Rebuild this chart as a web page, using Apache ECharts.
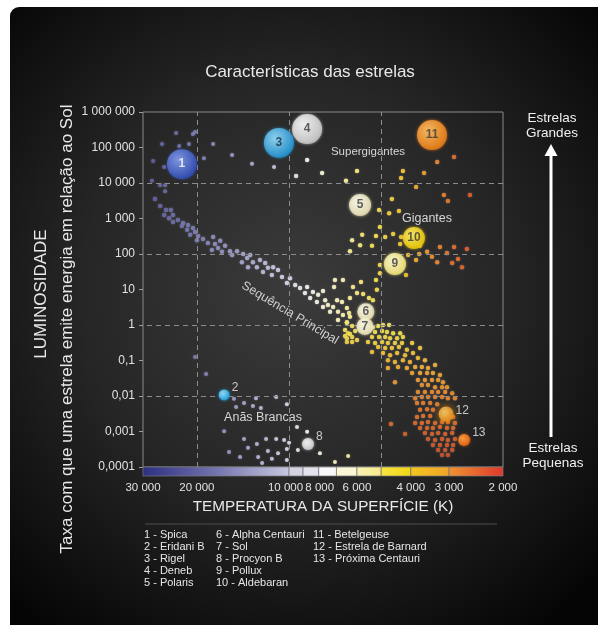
<!DOCTYPE html>
<html><head><meta charset="utf-8">
<script src="https://cdn.jsdelivr.net/npm/echarts@6.0.0/dist/echarts.min.js"></script>
<style>html,body{margin:0;padding:0;background:#fff;}#c{width:598px;height:625px;}</style>
</head><body><div id="c"></div>
<script>
// Every point: [log10(temperature in K), log10(luminosity in L☉)]
const blueSupergiants = [[4.369,5.41],[4.314,5.38],[4.307,5.44],[4.415,5.10],[4.359,5.04],[4.327,5.10],[4.248,5.10],[4.444,4.62],[4.408,4.45],[4.278,4.70],[4.186,4.79],[4.121,4.54],[4.049,4.45],[4.448,4.06],[4.421,3.94],[4.405,3.94],[4.405,3.77]];
const supergiants = [[3.941,4.65],[3.977,4.20],[3.892,4.28],[3.814,4.06],[3.778,4.34],[3.628,4.34],[3.634,4.14],[3.559,4.28],[3.516,4.59],[3.461,4.73]];
const giants = [[3.585,3.89],[3.664,3.55],[3.494,3.66],[3.481,3.49],[3.409,3.66],[3.706,3.24],[3.673,3.15],[3.641,3.21],[3.703,2.76],[3.761,2.54],[3.716,2.51],[3.686,2.48],[3.660,2.56],[3.794,2.39],[3.768,2.25],[3.729,2.23],[3.634,2.48],[3.637,2.28],[3.801,2.08],[3.572,2.23],[3.549,2.06],[3.507,2.20],[3.484,2.03],[3.461,2.20],[3.419,2.14],[3.611,1.97],[3.575,2.00],[3.533,1.92],[3.585,1.83],[3.516,1.77],[3.467,1.75],[3.448,1.86],[3.435,1.63],[3.703,1.69],[3.703,1.46],[3.618,1.41],[3.824,1.27],[3.765,1.21],[3.716,1.27],[3.853,1.07],[3.791,1.07],[3.758,0.87],[3.739,0.76],[3.850,1.27],[3.778,0.90],[3.726,0.70],[3.713,0.99],[3.801,0.76]];
const mainSequenceUpper = [[4.438,3.55],[4.421,3.35],[4.402,3.24],[4.386,3.24],[4.408,3.10],[4.379,3.10],[4.392,3.01],[4.363,2.96],[4.379,2.90],[4.346,2.87],[4.350,2.79],[4.330,2.82],[4.333,2.68],[4.314,2.73],[4.307,2.62],[4.323,2.54],[4.297,2.51],[4.301,2.39],[4.281,2.42],[4.248,2.48],[4.265,2.31],[4.242,2.28],[4.225,2.37],[4.252,2.11],[4.232,2.17],[4.209,2.23],[4.219,2.06],[4.193,2.08],[4.170,2.08],[4.186,1.97],[4.150,2.00],[4.127,1.97],[4.137,1.89],[4.154,1.77],[4.118,1.77],[4.095,1.83],[4.078,1.75],[4.105,1.63],[4.134,1.63],[4.069,1.61],[4.052,1.63],[4.036,1.55],[4.085,1.49],[4.056,1.41],[4.023,1.35],[3.997,1.32],[4.007,1.18],[3.980,1.13],[3.964,1.04],[3.941,1.07],[3.922,0.93],[3.948,0.90],[3.905,0.85],[3.889,0.96],[3.931,0.76],[3.909,0.65],[3.882,0.70],[3.873,0.56],[3.856,0.51],[3.889,0.51],[3.843,0.70],[3.827,0.65],[3.811,0.48],[3.866,0.37],[3.840,0.37],[3.824,0.28],[3.801,0.23],[3.840,0.14],[3.811,0.08]];
const mainSequenceLower = [[3.804,0.34],[3.811,0.06],[3.794,-0.03],[3.817,-0.14],[3.784,-0.17],[3.801,-0.25],[3.817,-0.31],[3.807,-0.23],[3.811,-0.37],[3.794,-0.34],[3.778,-0.42],[3.794,-0.48],[3.811,-0.48],[3.726,-0.06],[3.709,-0.03],[3.693,0.00],[3.673,0.00],[3.719,-0.20],[3.696,-0.17],[3.680,-0.20],[3.660,-0.23],[3.637,-0.23],[3.729,-0.34],[3.706,-0.34],[3.686,-0.34],[3.670,-0.37],[3.647,-0.37],[3.628,-0.34],[3.742,-0.48],[3.719,-0.51],[3.696,-0.48],[3.677,-0.51],[3.654,-0.51],[3.631,-0.51],[3.709,-0.62],[3.686,-0.65],[3.664,-0.65],[3.641,-0.62],[3.615,-0.70],[3.598,-0.51],[3.572,-0.65],[3.729,-0.76],[3.693,-0.79],[3.670,-0.85],[3.647,-0.79],[3.621,-0.85],[3.595,-0.79],[3.677,-0.99],[3.654,-1.04],[3.628,-0.99],[3.605,-1.04],[3.579,-0.93],[3.556,-0.99],[3.644,-1.18],[3.615,-1.21],[3.588,-1.18],[3.566,-1.18],[3.546,-1.21],[3.523,-1.13],[3.598,-1.35],[3.572,-1.35],[3.549,-1.35],[3.530,-1.35],[3.507,-1.41],[3.579,-1.55],[3.556,-1.55],[3.533,-1.55],[3.513,-1.55],[3.497,-1.61],[3.566,-1.69],[3.546,-1.69],[3.523,-1.75],[3.500,-1.75],[3.484,-1.75],[3.579,-1.89],[3.556,-1.89],[3.533,-1.89],[3.513,-1.89],[3.490,-1.89],[3.467,-1.92],[3.588,-2.06],[3.566,-2.03],[3.546,-2.03],[3.523,-2.03],[3.500,-2.03],[3.481,-2.06],[3.458,-2.06],[3.582,-2.20],[3.562,-2.20],[3.539,-2.20],[3.516,-2.23],[3.572,-2.39],[3.549,-2.37],[3.530,-2.39],[3.582,-2.59],[3.562,-2.56],[3.539,-2.56],[3.464,-2.59],[3.588,-2.76],[3.566,-2.76],[3.546,-2.73],[3.523,-2.76],[3.500,-2.73],[3.481,-2.73],[3.458,-2.76],[3.572,-2.90],[3.549,-2.90],[3.530,-2.90],[3.507,-2.87],[3.484,-2.90],[3.464,-2.90],[3.556,-3.04],[3.533,-3.07],[3.513,-3.04],[3.490,-3.07],[3.467,-3.04],[3.546,-3.21],[3.523,-3.24],[3.500,-3.21],[3.481,-3.24],[3.458,-3.21],[3.530,-3.38],[3.507,-3.38],[3.484,-3.38],[3.464,-3.38],[3.513,-3.52],[3.490,-3.52],[3.467,-3.52],[3.500,-3.66],[3.481,-3.66],[3.677,-1.21],[3.654,-1.61],[3.667,-2.79],[3.621,-3.07]];
const whiteDwarfs = [[4.307,-0.90],[4.271,-1.38],[4.180,-2.08],[4.173,-2.31],[4.147,-2.20],[4.118,-2.28],[4.108,-2.06],[4.092,-2.34],[4.042,-2.03],[4.007,-2.23],[4.212,-2.99],[4.147,-3.21],[4.105,-3.35],[4.075,-3.21],[4.042,-3.21],[4.016,-3.24],[4.000,-3.32],[4.196,-3.58],[4.160,-3.72],[4.134,-3.46],[4.101,-3.72],[4.069,-3.55],[4.036,-3.61],[4.007,-3.49],[4.088,-3.89],[4.007,-3.80],[3.974,-2.87],[3.941,-3.01],[3.971,-3.52],[3.899,-3.61],[3.850,-3.86],[3.807,-3.69],[4.056,-3.77]];
const starNames = ['Spica','Eridani B','Rigel','Deneb','Polaris','Alpha Centauri','Sol','Procyon B','Pollux','Aldebaran','Betelgeuse','Estrela de Barnard','Próxima Centauri'];
const namedStars = [[4.350,4.53],[4.212,-1.97],[4.033,5.13],[3.941,5.52],[3.768,3.38],[3.749,0.37],[3.752,-0.04],[3.938,-3.35],[3.654,1.72],[3.592,2.45],[3.533,5.35],[3.487,-2.51],[3.428,-3.24]];
// axes (K and L☉)
const tempTicks = [30000, 20000, 10000, 8000, 6000, 4000, 3000, 2000];
const gridTemps = [20000, 10000, 5000];
const gridLums = [10000, 100, 1, 0.01];
const colorbarTemps = [30000, 10000, 9000, 8000, 7000, 6000, 5000, 4000, 3000, 2000];

const FONT = "'Liberation Sans', Arial, sans-serif";
const L10 = Math.log10;
const G = echarts.graphic;
const tMin = L10(2000), tMax = L10(30000);
const fmtThousands = n => String(n).replace(/\B(?=(\d{3})+(?!\d))/g, ' ');
const fmtLum = v => v >= 0 ? fmtThousands(Math.round(Math.pow(10, v))) : '0,' + '0'.repeat(Math.round(-v) - 1) + '1';
const fmtTemp = v => {
  const t = Math.round(Math.pow(10, v) / 100) * 100;
  const s = fmtThousands(t);
  return t === 10000 ? `{l|${s}}` : t === 8000 ? `{r|${s}}` : s;
};

// styles (not data)
const starStyles = [
  {size:30, c0:'#93aaf0', c1:'#2c48b0', text:'#ffffff'},
  {size:11, c0:'#a8ecff', c1:'#1c9fe2', text:'#eeeeee', out:[0,-7]},
  {size:30, c0:'#a8e6fc', c1:'#1c8ccc', text:'#1e2a44'},
  {size:30, c0:'#ffffff', c1:'#c4c4c4', text:'#3a3a3a'},
  {size:22, c0:'#fffff6', c1:'#e6deb0', text:'#3a3a3a'},
  {size:17, c0:'#fffff4', c1:'#e8e0b0', text:'#3a3a3a'},
  {size:17, c0:'#fffff4', c1:'#e8e0b0', text:'#3a3a3a'},
  {size:12, c0:'#ffffff', c1:'#cfcfcf', text:'#eeeeee', out:[0,-7]},
  {size:22, c0:'#fffde0', c1:'#efe070', text:'#3a3a3a'},
  {size:22, c0:'#fff27a', c1:'#e8c400', text:'#3a3a3a'},
  {size:30, c0:'#ffc870', c1:'#e67812', text:'#3a3a3a'},
  {size:15, c0:'#ffd878', c1:'#f29010', text:'#eeeeee', out:[0,-3]},
  {size:12, c0:'#ffae50', c1:'#e8620e', text:'#eeeeee', out:[0,-7]}
];
const colorbarFills = [
  new G.LinearGradient(0,0,1,0,[{offset:0,color:'#2c2e82'},{offset:0.5,color:'#7474ae'},{offset:1,color:'#c8c8df'}]),
  '#d3d3e3','#e3e3ee','#f7f7fa','#fbf6d6',
  new G.LinearGradient(0,0,1,0,[{offset:0,color:'#f9f3b6'},{offset:1,color:'#f6ea86'}]),
  new G.LinearGradient(0,0,1,0,[{offset:0,color:'#f6e640'},{offset:1,color:'#f2d418'}]),
  new G.LinearGradient(0,0,1,0,[{offset:0,color:'#f3c81c'},{offset:1,color:'#f0a22a'}]),
  new G.LinearGradient(0,0,1,0,[{offset:0,color:'#ee9432'},{offset:1,color:'#e0382c'}])
];

const chart = echarts.init(document.getElementById('c'));
const dot = (name, data, size) => ({type:'scatter', name, data, symbolSize:size, silent:true, z:3,
  itemStyle:{opacity:0.95, shadowBlur:2, shadowColor:'rgba(255,255,255,0.25)'}});

const legendCols = [[0,5],[5,10],[10,13]].map(([a,b]) => starNames.slice(a,b).map((n,i)=>`${a+i+1} - ${n}`).join('\n'));
const legendX = [144, 216, 313];

chart.setOption({
  animation:false,
  backgroundColor:'#ffffff',
  textStyle:{fontFamily:FONT},
  graphic:[
    {type:'rect', z:-100, silent:true, shape:{x:10,y:7,width:600,height:630,r:[9,0,0,0]},
     style:{fill:new G.RadialGradient(0.47,0.45,0.7,[{offset:0,color:'#3b3b3b'},{offset:0.5,color:'#262626'},{offset:1,color:'#050505'}])}},
    {type:'text', x:310, y:72, style:{text:'Características das estrelas', fill:'#e8e8e8', fontSize:17, fontFamily:FONT, align:'center', verticalAlign:'middle'}},
    {type:'text', x:41, y:294, rotation:Math.PI/2, style:{text:'LUMINOSIDADE', fill:'#e8e8e8', fontSize:17, fontFamily:FONT, align:'center', verticalAlign:'middle'}},
    {type:'text', x:67, y:329, rotation:Math.PI/2, style:{text:'Taxa com que uma estrela emite energia em relação ao Sol', fill:'#e8e8e8', fontSize:17, fontFamily:FONT, align:'center', verticalAlign:'middle'}},
    {type:'text', x:323, y:507, style:{text:'TEMPERATURA DA SUPERFÍCIE (K)', fill:'#e8e8e8', fontSize:15.3, fontFamily:FONT, align:'center', verticalAlign:'middle'}},
    {type:'text', x:552, y:126, style:{text:'Estrelas\nGrandes', fill:'#f0f0f0', fontSize:13.5, lineHeight:15, fontFamily:FONT, align:'center', verticalAlign:'middle'}},
    {type:'text', x:553, y:456, style:{text:'Estrelas\nPequenas', fill:'#f0f0f0', fontSize:13.5, lineHeight:15, fontFamily:FONT, align:'center', verticalAlign:'middle'}},
    {type:'line', shape:{x1:551,y1:152,x2:551,y2:437}, style:{stroke:'#ffffff', lineWidth:3}},
    {type:'polygon', shape:{points:[[551,144],[544.5,156],[557.5,156]]}, style:{fill:'#ffffff'}},
    {type:'text', x:368, y:152, style:{text:'Supergigantes', fill:'#d6d6d6', fontSize:11.5, fontFamily:FONT, align:'center', verticalAlign:'middle'}},
    {type:'text', x:427, y:219, style:{text:'Gigantes', fill:'#d6d6d6', fontSize:12.5, fontFamily:FONT, align:'center', verticalAlign:'middle'}},
    {type:'text', x:263, y:418, style:{text:'Anãs Brancas', fill:'#d6d6d6', fontSize:12.5, fontFamily:FONT, align:'center', verticalAlign:'middle'}},
    {type:'text', x:290, y:313, rotation:-0.54, style:{text:'Sequência Principal', fill:'#d0d0d0', fontSize:12.5, fontFamily:FONT, align:'center', verticalAlign:'middle'}},
    {type:'line', shape:{x1:145,y1:524,x2:497,y2:524}, style:{stroke:'#4c4c4c', lineWidth:1}},
    ...legendCols.map((t,i)=>({type:'text', x:legendX[i], y:529, style:{text:t, fill:'#e6e6e6', fontSize:11, lineHeight:12, fontFamily:FONT, align:'left', verticalAlign:'top'}}))
  ],
  grid:[
    {left:143, top:112, width:360, height:355, show:true, borderColor:'#8a8a8a', borderWidth:1, backgroundColor:'transparent'},
    {left:143, top:467, width:360, height:9}
  ],
  xAxis:[
    {type:'value', gridIndex:0, min:tMin, max:tMax, inverse:true, axisLine:{show:false}, axisTick:{show:false}, axisLabel:{show:false}, splitLine:{show:false}},
    {type:'value', gridIndex:1, min:tMin, max:tMax, inverse:true, axisLine:{show:false}, axisTick:{show:false}, splitLine:{show:false},
     axisLabel:{color:'#e2e2e2', fontSize:11.5, margin:6, fontFamily:FONT, customValues:tempTicks.map(L10), formatter:fmtTemp,
       rich:{l:{color:'#e2e2e2', fontSize:11.5, fontFamily:FONT, padding:[0,7,0,0]}, r:{color:'#e2e2e2', fontSize:11.5, fontFamily:FONT, padding:[0,0,0,2]}}}}
  ],
  yAxis:[
    {type:'value', gridIndex:0, min:-4, max:6, interval:1, axisLine:{show:false}, splitLine:{show:false},
     axisTick:{show:true, length:4, lineStyle:{color:'#9a9a9a'}},
     axisLabel:{color:'#e2e2e2', fontSize:12, margin:8, fontFamily:FONT, formatter:fmtLum}},
    {type:'value', gridIndex:1, min:0, max:1, show:false}
  ],
  visualMap:[
    {type:'continuous', show:false, dimension:0, seriesIndex:[1,2,3,4,6], min:3.30, max:4.48,
     inRange:{color:['#d83c2c','#e0582c','#e8842c','#f0c030','#f2e050','#f6f0b8','#ececf2','#c4c4dc','#a0a0cc','#8484bc','#6c6cac','#5a5aa0']}},
    {type:'continuous', show:false, dimension:1, seriesIndex:[5], min:-3.7, max:0.4,
     inRange:{color:['#c8502a','#d45e2a','#de702c','#e6862e','#eba232','#eec038','#eedc4c','#f0ec9a']}}
  ],
  series:[
    {type:'scatter', data:[], z:1, silent:true,
     markLine:{silent:true, symbol:'none', label:{show:false}, lineStyle:{color:'#8c8c8c', type:[5,4], width:1},
       data:[...gridTemps.map(t=>({xAxis:L10(t)})), ...gridLums.map(l=>({yAxis:L10(l)}))]}},
    dot('Supergigantes azuis', blueSupergiants, 4),
    dot('Supergigantes', supergiants, 4.5),
    dot('Gigantes', giants, 4.5),
    dot('Sequência principal (quentes)', mainSequenceUpper, 4.5),
    dot('Sequência principal (frias)', mainSequenceLower, 4.5),
    dot('Anãs brancas', whiteDwarfs, 4),
    {type:'scatter', name:'Estrelas', z:5, silent:true,
     data:namedStars.map((p,i)=>{
       const s = starStyles[i];
       return {value:p, symbolSize:s.size,
         itemStyle:{color:new G.RadialGradient(0.38,0.35,0.7,[{offset:0,color:s.c0},{offset:1,color:s.c1}]), shadowBlur:i===11?8:3, shadowColor:s.c1},
         label:s.out ? {show:true, position:'right', distance:2, offset:s.out, color:s.text, fontSize:12, fontWeight:'normal'}
                     : {show:true, position:'inside', color:s.text, fontSize:12, fontWeight:'bold'}};
     }),
     label:{show:true, fontFamily:FONT, formatter:p=>String(p.dataIndex+1)}},
    {type:'scatter', xAxisIndex:1, yAxisIndex:1, data:[], silent:true,
     markArea:{silent:true,
       data:colorbarFills.map((f,i)=>[{xAxis:L10(colorbarTemps[i]), yAxis:0, itemStyle:{color:f, opacity:1, borderColor:'rgba(120,120,120,0.9)', borderWidth:0.8}},
                                     {xAxis:L10(colorbarTemps[i+1]), yAxis:1}])}}
  ]
});
</script></body></html>
